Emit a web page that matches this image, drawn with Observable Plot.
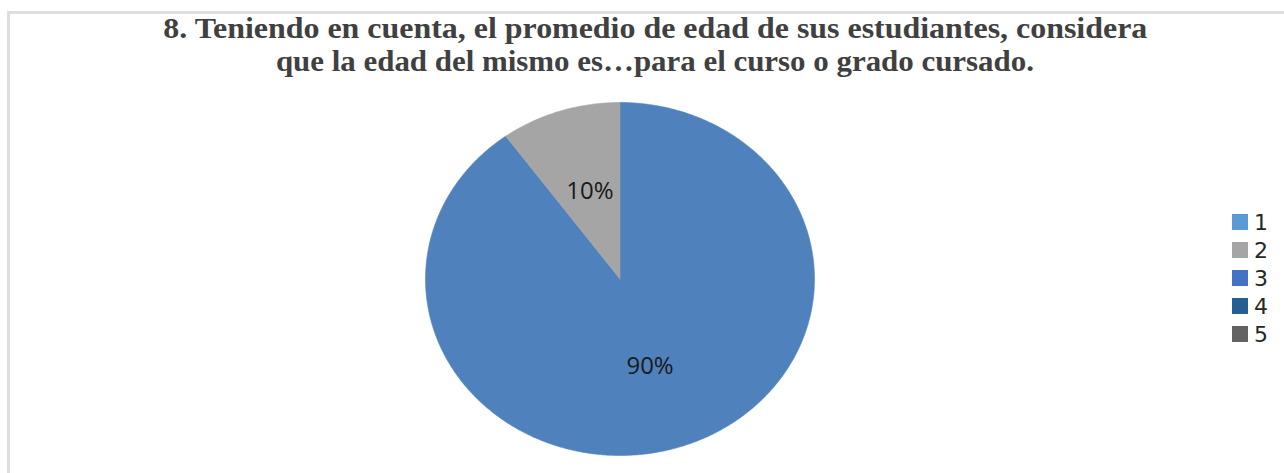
<!DOCTYPE html>
<html>
<head>
<meta charset="utf-8">
<script src="https://cdn.jsdelivr.net/npm/d3@7"></script>
<script src="https://cdn.jsdelivr.net/npm/@observablehq/plot@0.6"></script>
<style>
  html, body { margin: 0; padding: 0; background: #fff; width: 1284px; height: 473px; overflow: hidden; }
  #frame { position: absolute; left: 7px; top: 11px; width: 1300px; height: 500px;
           border-left: 3px solid #dedede; border-top: 3px solid #dedede; }
  #title { position: absolute; left: 0; top: 0; width: 1310px; height: 90px;
           font-family: "Liberation Serif", "Times New Roman", serif; font-weight: bold;
           font-size: 30px; color: #404040; }
  #title .ln { position: absolute; left: 0; width: 1310px; text-align: center; white-space: nowrap; line-height: 34px; }
  #title .ln span { display: inline-block; transform-origin: center; }
  #chart { position: absolute; left: 0; top: 90px; }
  #legend { position: absolute; left: 1232px; top: 208px; }
  #legend div { font-size: 22px !important; font-family: "DejaVu Sans", sans-serif !important; color: #262626 !important; }
  #legend .lg-swatch { height: 28px; padding: 0 !important; margin: 0 !important; }
  #legend svg { margin-right: 6px !important; }
</style>
</head>
<body>
<div id="frame"></div>
<div id="title">
  <div class="ln" style="top:11px"><span id="t1"></span></div>
  <div class="ln" style="top:44px"><span id="t2"></span></div>
</div>
<div id="chart"></div>
<div id="legend"></div>
<script>
const titleLines = [
  "8. Teniendo en cuenta, el promedio de edad de sus estudiantes, considera",
  "que la edad del mismo es\u2026para el curso o grado cursado."
];
const titleWidths = [984, 758];

const sliceNames = ["A", "B"];
const sliceValues = [90, 10];
const sliceLabels = ["90%", "10%"];
const sliceColors = ["#4F81BD", "#A5A5A5"];

const legendLabels = ["1", "2", "3", "4", "5"];
const legendColors = ["#5B9BD5", "#A5A5A5", "#4472C4", "#255E91", "#636363"];

// title
["t1", "t2"].forEach((id, i) => {
  const el = document.getElementById(id);
  el.textContent = titleLines[i];
  const w = el.getBoundingClientRect().width;
  el.style.transform = `scaleX(${titleWidths[i] / w})`;
});

// pie geometry via d3.pie
const slices = sliceNames.map((n, i) => ({name: n, value: sliceValues[i], label: sliceLabels[i], color: sliceColors[i]}));
const arcs = d3.pie().sort(null).value(d => d.value)(slices);
const outline = [];
const labels = [];
arcs.forEach(a => {
  const steps = Math.max(2, Math.ceil((a.endAngle - a.startAngle) / (Math.PI / 360)));
  outline.push({slice: a.data.name, color: a.data.color, x: 0, y: 0});
  for (let k = 0; k <= steps; k++) {
    const t = a.startAngle + (a.endAngle - a.startAngle) * k / steps;
    outline.push({slice: a.data.name, color: a.data.color, x: Math.sin(t), y: Math.cos(t)});
  }
  outline.push({slice: a.data.name, color: a.data.color, x: 0, y: 0});
  const mid = (a.startAngle + a.endAngle) / 2;
  labels.push({text: a.data.label, x: 0.5 * Math.sin(mid), y: 0.52 * Math.cos(mid)});
});

const chart = Plot.plot({
  width: 1284,
  height: 383,
  margin: 0,
  x: {domain: [-1, 1], range: [425, 814], axis: null},
  y: {domain: [-1, 1], range: [365, 12], axis: null},
  color: {type: "identity"},
  marks: [
    Plot.line(outline, {x: "x", y: "y", z: "slice", fill: "color", stroke: "color", strokeWidth: 0.6, curve: "linear"}),
    Plot.text(labels, {x: "x", y: "y", text: "text", fontSize: 24, fontFamily: "Open Sans, sans-serif", fill: "#1a1a1a"})
  ]
});
document.getElementById("chart").appendChild(chart);

const legend = Plot.legend({
  color: {type: "ordinal", domain: legendLabels, range: legendColors},
  legend: "swatches",
  columns: 1,
  swatchSize: 16,
  className: "lg",
  style: {fontSize: "22px", fontFamily: "DejaVu Sans, sans-serif", color: "#262626"}
});
document.getElementById("legend").appendChild(legend);
</script>
</body>
</html>
